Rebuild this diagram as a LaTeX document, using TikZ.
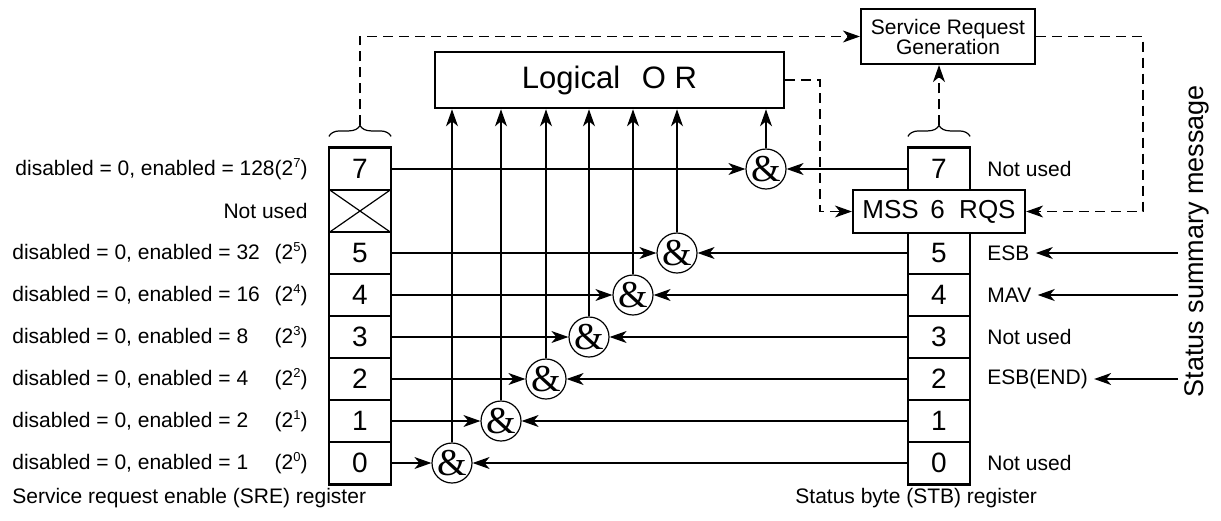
\documentclass[tikz,border=0pt]{standalone}
\usepackage{fontspec}
\setmainfont{Liberation Sans}
\newfontfamily\ampfont{Liberation Serif}
\usetikzlibrary{arrows.meta,decorations.pathreplacing}
\newcommand\pwr[1]{\raisebox{0.75ex}{\fontsize{6.5}{6}\selectfont#1}}

\begin{document}
\begin{tikzpicture}[
x=0.5pt, y=-0.5pt,
font=\fontsize{10.5}{12}\selectfont,
cell/.style = {draw,line width=0.6pt,minimum width=30.5pt,minimum height=21pt,inner sep=0pt,font=\fontsize{14}{14}\selectfont},
gate/.style = {draw,circle,line width=0.6pt,minimum size=20pt,inner sep=0pt,font=\ampfont\fontsize{19}{19}\selectfont},
lbl/.style = {inner sep=3pt},
box/.style = {draw,line width=1.1pt,fill=white,inner sep=0pt},
wire/.style = {line width=0.6pt,-{Stealth[length=8.5pt,width=6pt,inset=2.5pt]}},
dsh/.style = {line width=0.6pt,dash pattern=on 5pt off 3pt,-{Stealth[length=8.5pt,width=6pt,inset=2.5pt]}},
brc/.style = {line width=0.6pt,decorate,decoration={brace,amplitude=5.5pt}}
]
  \useasboundingbox (0,0) rectangle (1221,520);

  \node[cell] (s7) at (360,169) {7};
  \node[cell] (s6) at (360,211) {};
  \node[cell] (s5) at (360,253) {5};
  \node[cell] (s4) at (360,295) {4};
  \node[cell] (s3) at (360,337) {3};
  \node[cell] (s2) at (360,379) {2};
  \node[cell] (s1) at (360,421) {1};
  \node[cell] (s0) at (360,463) {0};
  \draw[line width=0.6pt] (s6.north west) -- (s6.south east) (s6.south west) -- (s6.north east);
  \draw[line width=1.2pt] (s7.north west) rectangle (s0.south east);

  \node[cell] (t7) at (939,169) {7};
  \node[cell] (t5) at (939,253) {5};
  \node[cell] (t4) at (939,295) {4};
  \node[cell] (t3) at (939,337) {3};
  \node[cell] (t2) at (939,379) {2};
  \node[cell] (t1) at (939,421) {1};
  \node[cell] (t0) at (939,463) {0};
  \draw[line width=1.2pt] (t7.north west) rectangle (t0.south east);
  \node[box,minimum width=86pt,minimum height=21.5pt,font=\fontsize{13}{13}\selectfont] (mss) at (939,211.5) {MSS\hspace{0.45em}6\hspace{0.55em}RQS};

  \node[box,line width=1.3pt,minimum width=174.5pt,minimum height=28pt,font=\fontsize{15.5}{16}\selectfont] (lor) at (609.5,80) {Logical\hspace{0.7em}O R};
  \node[box,minimum width=87pt,minimum height=27.5pt,align=center,font=\fontsize{10.5}{10}\selectfont] (srg) at (948,36.5) {Service Request\\Generation};

  \node[gate] (g7) at (766,169) {\&};
  \node[gate] (g5) at (677,253) {\&};
  \node[gate] (g4) at (633,295) {\&};
  \node[gate] (g3) at (589,337) {\&};
  \node[gate] (g2) at (546,379) {\&};
  \node[gate] (g1) at (501,421) {\&};
  \node[gate] (g0) at (452,463) {\&};

  \draw[wire] (s7) -- (g7);
  \draw[wire] (s5) -- (g5);
  \draw[wire] (s4) -- (g4);
  \draw[wire] (s3) -- (g3);
  \draw[wire] (s2) -- (g2);
  \draw[wire] (s1) -- (g1);
  \draw[wire] (s0) -- (g0);
  \draw[wire] (t7) -- (g7);
  \draw[wire] (t5) -- (g5);
  \draw[wire] (t4) -- (g4);
  \draw[wire] (t3) -- (g3);
  \draw[wire] (t2) -- (g2);
  \draw[wire] (t1) -- (g1);
  \draw[wire] (t0) -- (g0);
  \draw[wire] (g7) -- (g7 |- lor.south);
  \draw[wire] (g5) -- (g5 |- lor.south);
  \draw[wire] (g4) -- (g4 |- lor.south);
  \draw[wire] (g3) -- (g3 |- lor.south);
  \draw[wire] (g2) -- (g2 |- lor.south);
  \draw[wire] (g1) -- (g1 |- lor.south);
  \draw[wire] (g0) -- (g0 |- lor.south);

  \draw[brc] ([yshift=5.5pt]s7.north west) -- ([yshift=5.5pt]s7.north east);
  \draw[brc] ([yshift=5.5pt]t7.north west) -- ([yshift=5.5pt]t7.north east);
  \coordinate (lbt) at ([yshift=11pt]s7.north);
  \coordinate (rbt) at ([yshift=11pt]t7.north);
  \coordinate (cr) at (1143,211.5);
  \coordinate (cl) at (820,211.5);
  \draw[dsh] (lbt) |- (srg.west);
  \draw[dsh] (rbt) -- (rbt |- srg.south);
  \draw[dsh] (srg.east) -| (cr) -- (mss.east);
  \draw[dsh] (lor.east) -| (cl) -- (mss.west);

  \node[lbl,anchor=east] (d7) at (314,169) {disabled = 0, enabled = 128(2\pwr{7})};
  \node[lbl,anchor=east] (d6) at (314,211) {Not used};
  \node[lbl,anchor=west] (d5) at (6,253) {disabled = 0, enabled = 32};
  \node[lbl,anchor=east] (p5) at (314,253) {(2\pwr{5})};
  \node[lbl,anchor=west] (d4) at (6,295) {disabled = 0, enabled = 16};
  \node[lbl,anchor=east] (p4) at (314,295) {(2\pwr{4})};
  \node[lbl,anchor=west] (d3) at (6,337) {disabled = 0, enabled = 8};
  \node[lbl,anchor=east] (p3) at (314,337) {(2\pwr{3})};
  \node[lbl,anchor=west] (d2) at (6,379) {disabled = 0, enabled = 4};
  \node[lbl,anchor=east] (p2) at (314,379) {(2\pwr{2})};
  \node[lbl,anchor=west] (d1) at (6,421) {disabled = 0, enabled = 2};
  \node[lbl,anchor=east] (p1) at (314,421) {(2\pwr{1})};
  \node[lbl,anchor=west] (d0) at (6,463) {disabled = 0, enabled = 1};
  \node[lbl,anchor=east] (p0) at (314,463) {(2\pwr{0})};
  \node[lbl,anchor=west] (sre) at (6,498) {Service request enable (SRE)\ register};

  \node[lbl,anchor=west] (n7) at (981,169) {Not used};
  \node[lbl,anchor=west] (esb) at (981,253) {ESB};
  \node[lbl,anchor=west] (mav) at (981,295) {MAV};
  \node[lbl,anchor=west] (n3) at (981,337) {Not used};
  \node[lbl,anchor=west] (end) at (981,379) {ESB(END)};
  \node[lbl,anchor=west] (n0) at (981,463) {Not used};
  \node[lbl,anchor=west] (stb) at (789,498) {Status byte (STB)\ register};
  \coordinate (i5) at (1178,253);
  \coordinate (i4) at (1178,295);
  \coordinate (i2) at (1178,379);
  \draw[wire] (i5) -- (esb);
  \draw[wire] (i4) -- (mav);
  \draw[wire] (i2) -- (end);

  \node[rotate=90,font=\fontsize{13.5}{14}\selectfont] (ssm) at (1197,241) {Status summary message};
\end{tikzpicture}
\end{document}
